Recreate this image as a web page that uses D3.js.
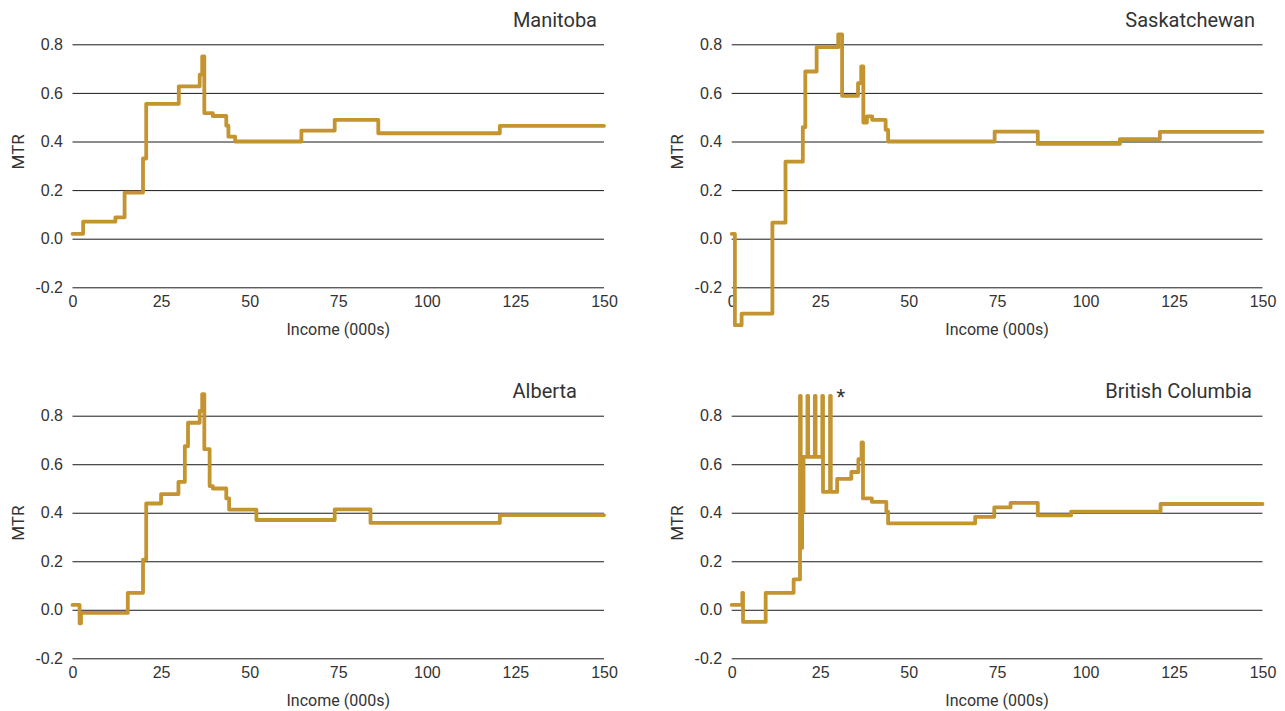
<!DOCTYPE html>
<html>
<head>
<meta charset="utf-8">
<script src="https://cdn.jsdelivr.net/npm/d3@7"></script>
<style>
  html, body { margin: 0; padding: 0; background: #fff; }
  svg { display: block; font-family: Roboto, "Liberation Sans", Arial, sans-serif; }
  .grid line { stroke: #1a1a1a; stroke-width: 1; }
  .tick text { fill: #333; font-size: 16px; }
  .label { fill: #333; font-size: 16px; }
  .title { fill: #333; font-size: 20px; }
  .mtr { fill: #c3942f; stroke: #c3942f; }
</style>
</head>
<body>
<svg id="chart" width="1285" height="711"></svg>
<script>
// Marginal tax rate by income, step points (income in $000s, rate as share)
const provinces = ["Manitoba", "Saskatchewan", "Alberta", "British Columbia"];

const mbIncome = [0, 3, 12.1, 14.7, 19.9, 20.8, 30.0, 35.9, 36.6, 37.2, 39.6, 43.4, 44.0, 45.9, 64.6, 74.0, 86.3, 120.6, 150];
const mbRate   = [0.02, 0.07, 0.088, 0.19, 0.33, 0.555, 0.627, 0.675, 0.75, 0.517, 0.505, 0.465, 0.42, 0.40, 0.445, 0.489, 0.434, 0.464, 0.464];

const skIncome = [0, 0.9, 2.8, 11.5, 15.2, 20.1, 20.8, 24.0, 30.1, 31.2, 35.7, 36.6, 37.2, 38.2, 39.7, 43.5, 44.2, 74.3, 86.5, 109.7, 121.0, 150];
const skRate   = [0.02, -0.356, -0.308, 0.066, 0.317, 0.459, 0.688, 0.788, 0.841, 0.588, 0.64, 0.709, 0.478, 0.503, 0.489, 0.448, 0.40, 0.441, 0.39, 0.41, 0.44, 0.44];

const abIncome = [0, 2.0, 2.4, 15.6, 19.9, 20.8, 25.0, 29.9, 31.7, 32.6, 35.9, 36.6, 37.2, 38.7, 39.6, 43.4, 44.2, 51.9, 74.0, 84.1, 120.6, 150];
const abRate   = [0.02, -0.056, -0.013, 0.07, 0.207, 0.438, 0.477, 0.527, 0.674, 0.771, 0.82, 0.889, 0.662, 0.51, 0.50, 0.459, 0.413, 0.37, 0.414, 0.358, 0.39, 0.39];

const bcIncome = [0, 3.0, 3.2, 9.6, 17.5, 19.3, 19.5, 19.9, 20.3, 21.4, 21.6, 23.5, 23.7, 25.6, 25.8, 27.8, 28.0, 29.8, 33.8, 35.8, 36.7, 37.1, 39.6, 43.7, 44.2, 68.8, 74.2, 78.8, 86.5, 95.9, 121.2, 150];
const bcRate   = [0.02, 0.07, -0.05, 0.07, 0.125, 0.882, 0.255, 0.404, 0.63, 0.882, 0.63, 0.882, 0.63, 0.882, 0.486, 0.882, 0.486, 0.54, 0.568, 0.621, 0.69, 0.459, 0.445, 0.404, 0.356, 0.383, 0.422, 0.441, 0.389, 0.405, 0.436, 0.436];

const incomeTicks = [0, 25, 50, 75, 100, 125, 150];
const rateTicks = [-0.2, 0, 0.2, 0.4, 0.6, 0.8];
const rateTickLabels = ["-0.2", "0.0", "0.2", "0.4", "0.6", "0.8"];
const xTitle = "Income (000s)";
const yTitle = "MTR";
const footnoteMark = "*";

const series = [
  { income: mbIncome, rate: mbRate },
  { income: skIncome, rate: skRate },
  { income: abIncome, rate: abRate },
  { income: bcIncome, rate: bcRate }
];

// Panel frames (pixel positions of the plotting area)
const frames = [
  { x0: 72.5, x1: 604,    yTop: 44.3,  yBot: 287.3, titleX: 597,    titleY: 27.3,  labelX: 23.5 },
  { x0: 731.7, x1: 1262.5, yTop: 44.3,  yBot: 287.3, titleX: 1255,   titleY: 27.3,  labelX: 683 },
  { x0: 72.5, x1: 604,    yTop: 415.7, yBot: 658.3, titleX: 577,    titleY: 398.3, labelX: 23.5 },
  { x0: 731.7, x1: 1262.5, yTop: 415.7, yBot: 658.3, titleX: 1252,   titleY: 398.3, labelX: 683 }
];

const svg = d3.select("#chart");

frames.forEach((f, i) => {
  const x = d3.scaleLinear().domain([0, 150]).range([f.x0, f.x1]);
  const y = d3.scaleLinear().domain([-0.2, 0.8]).range([f.yBot, f.yTop]);
  const g = svg.append("g");

  // horizontal gridlines with rate labels
  const yAxis = g.append("g")
    .attr("class", "grid")
    .attr("transform", `translate(${f.x0},0)`)
    .call(d3.axisLeft(y)
      .tickValues(rateTicks)
      .tickFormat((d, k) => rateTickLabels[k])
      .tickSize(-(f.x1 - f.x0))
      .tickPadding(9.5));
  yAxis.select(".domain").remove();
  yAxis.selectAll("text").attr("font-family", null).attr("font-size", null);

  // income tick labels
  const xAxis = g.append("g")
    .attr("class", "grid")
    .attr("transform", `translate(0,${f.yBot})`)
    .call(d3.axisBottom(x).tickValues(incomeTicks).tickSize(0).tickPadding(8.6));
  xAxis.select(".domain").remove();
  xAxis.selectAll("text").attr("font-family", null).attr("font-size", null);

  // axis titles
  g.append("text")
    .attr("class", "label")
    .attr("x", (f.x0 + f.x1) / 2)
    .attr("y", f.yBot + 47.5)
    .attr("text-anchor", "middle")
    .text(xTitle);

  g.append("text")
    .attr("class", "label")
    .attr("transform", `translate(${f.labelX},${f.yTop + 107.5}) rotate(-90)`)
    .attr("text-anchor", "middle")
    .style("font-size", "17px")
    .text(yTitle);

  // panel title
  g.append("text")
    .attr("class", "title")
    .attr("x", f.titleX)
    .attr("y", f.titleY)
    .attr("text-anchor", "end")
    .text(provinces[i]);

  // marginal tax rate step line
  const s = series[i];
  const pts = s.income.map((v, k) => [v, s.rate[k]]);
  const line = d3.line()
    .x(d => x(d[0]))
    .y(d => y(d[1]))
    .curve(d3.curveStepAfter);

  g.append("path")
    .datum(pts)
    .attr("fill", "none")
    .attr("stroke", "#c3942f")
    .attr("stroke-width", 3.8)
    .attr("stroke-linejoin", "round")
    .attr("stroke-linecap", "round")
    .attr("d", line);

  if (i === 3) {
    g.append("text")
      .attr("class", "label")
      .attr("x", x(30.8))
      .attr("y", y(0.882) + 8)
      .attr("text-anchor", "middle")
      .style("font-size", "20px")
      .text(footnoteMark);
  }
});
</script>
</body>
</html>
